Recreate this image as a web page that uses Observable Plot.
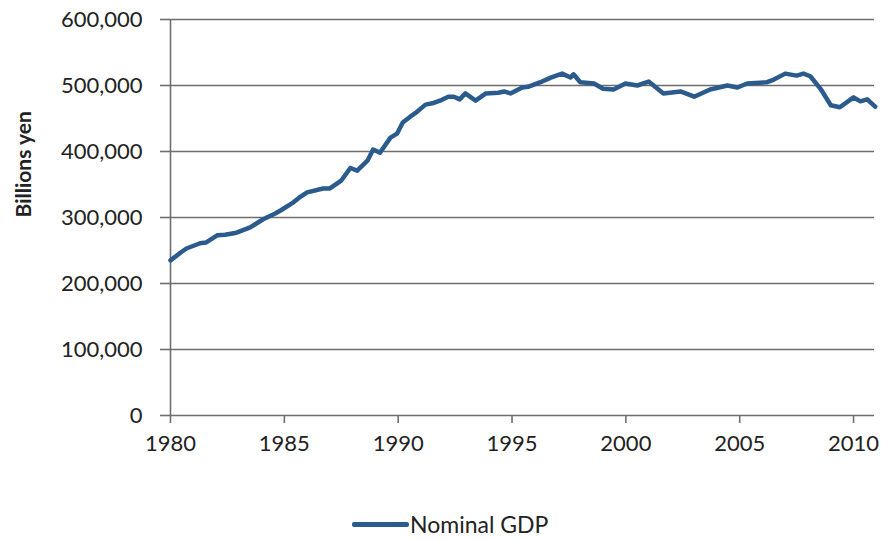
<!DOCTYPE html>
<html>
<head>
<meta charset="utf-8">
<script src="https://cdn.jsdelivr.net/npm/d3@7"></script>
<script src="https://cdn.jsdelivr.net/npm/@observablehq/plot@0.6"></script>
<style>
  html, body { margin: 0; padding: 0; background: #fff; }
  #chart { width: 881px; height: 470px; }
  #legend { width: 881px; height: 70px; position: relative; font-family: Lato, "Open Sans", sans-serif; }
  #legend .item { position: absolute; left: 352px; top: 40px; display: flex; align-items: center; }
  #legend .swatch { width: 57px; height: 5px; background: #2a5b8c; border-radius: 2px; }
  #legend .label { font-size: 23px; color: #222; margin-left: 1px; }
</style>
</head>
<body>
<div id="chart"></div>
<div id="legend"><div class="item"><div class="swatch"></div><div class="label">Nominal GDP</div></div></div>
<script>
// Time position (decimal year) and Nominal GDP (billions yen)
const years = [
  1980.0, 1980.45, 1980.7, 1981.3, 1981.55, 1982.05, 1982.4, 1982.9, 1983.5, 1984.05,
  1984.6, 1984.85, 1985.4, 1985.65, 1986.0, 1986.7, 1987.0, 1987.5, 1987.9, 1988.2,
  1988.65, 1988.9, 1989.2, 1989.66, 1989.95, 1990.2, 1990.5, 1990.75, 1991.2, 1991.5,
  1991.9, 1992.2, 1992.45, 1992.7, 1992.95, 1993.4, 1993.85, 1994.4, 1994.65, 1994.93,
  1995.45, 1995.7, 1996.25, 1996.7, 1997.2, 1997.57, 1997.7, 1998.0, 1998.6, 1999.0,
  1999.46, 1999.98, 2000.5, 2001.0, 2001.65, 2002.4, 2003.0, 2003.7, 2004.46, 2004.9,
  2005.33, 2006.2, 2006.5, 2007.0, 2007.5, 2007.8, 2008.1, 2008.55, 2009.0, 2009.4,
  2010.0, 2010.3, 2010.6, 2010.95
];
const gdp = [
  235000, 247000, 253000, 261000, 262000, 273000, 274000, 277000, 285000, 297000,
  306000, 311000, 323000, 330000, 338000, 344000, 344000, 356000, 375000, 371000,
  386000, 403000, 398000, 421000, 427000, 444000, 452000, 458000, 471000, 473000,
  478000, 483000, 483000, 479000, 488000, 477000, 488000, 489000, 491000, 488000,
  497000, 498000, 505000, 512000, 518000, 512000, 517000, 505000, 503000, 495000,
  494000, 503000, 500000, 506000, 488000, 491000, 483000, 494000, 500000, 497000,
  503000, 505000, 509000, 518000, 515000, 518000, 514000, 495000, 470000, 467000,
  482000, 476000, 479000, 468000
];
const xTicks = [1980, 1985, 1990, 1995, 2000, 2005, 2010];
const yTicks = [0, 100000, 200000, 300000, 400000, 500000, 600000];
const seriesName = "Nominal GDP";
const yTitle = "Billions yen";

const data = years.map((t, i) => ({year: t, value: gdp[i]}));

const chart = Plot.plot({
  width: 881,
  height: 470,
  marginLeft: 170,
  marginRight: 7,
  marginTop: 19,
  marginBottom: 55,
  style: {fontFamily: "Lato, 'Open Sans', sans-serif", fontSize: "22px", color: "#222", background: "#fff"},
  x: {domain: [1980, 2010.92]},
  y: {domain: [0, 600000]},
  marks: [
    Plot.gridY(yTicks, {stroke: "#6e6e6e", strokeOpacity: 1, strokeWidth: 1.6}),
    Plot.ruleX([1980], {stroke: "#6e6e6e", strokeWidth: 1.6}),
    Plot.axisY(yTicks, {tickSize: 10, tickPadding: 18, tickFormat: d3.format(","), label: null, stroke: "#6e6e6e", strokeWidth: 1.6, fontSize: 22}),
    Plot.axisX(xTicks, {tickSize: 8, tickPadding: 12, tickFormat: d3.format("d"), label: null, stroke: "#6e6e6e", strokeWidth: 1.6, fontSize: 22}),
    Plot.text([yTitle], {frameAnchor: "left", dx: -146, rotate: -90, fontWeight: "bold", fontSize: 21, fill: "#222"}),
    Plot.line(data, {x: "year", y: "value", stroke: "#2a5b8c", strokeWidth: 4.5, strokeLinejoin: "round", strokeLinecap: "round"})
  ]
});
document.getElementById("chart").appendChild(chart);
document.querySelector("#legend .label").textContent = seriesName;
</script>
</body>
</html>
